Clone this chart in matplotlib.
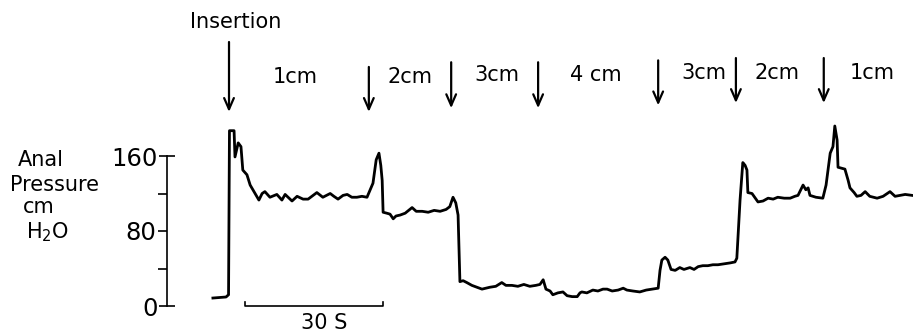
#ANAL PRESSURE TRACE DURING INSERTION AND WITHDRAWAL
import matplotlib
matplotlib.use("Agg")
import matplotlib.pyplot as plt

#trace (time in s from insertion, pressure in cm H2O)
time_s = [-3.5, -0.65, -0.1, 0.1, 1.1, 1.3, 2.0, 2.6, 3.0, 3.9, 4.6, 5.2, 6.5, 7.2, 7.8,
          8.9, 10.4, 11.5, 12.2, 13.7, 14.8, 16.1, 17.2, 18.3, 19.1, 20.4, 22.0, 22.8,
          23.7, 24.8, 25.7, 26.7, 27.8, 28.9, 30.0, 30.7, 31.3, 32.0, 32.6, 33.0, 33.3,
          33.5, 34.3, 35.0, 35.7, 36.3, 37.2, 38.3, 39.8, 40.7, 42.0, 43.3, 44.6, 45.9,
          47.2, 48.0, 48.7, 49.3, 49.8, 50.2, 50.9, 51.7, 52.8, 53.9, 55.0, 55.9, 56.7,
          58.0, 59.3, 60.2, 61.5, 62.8, 64.1, 65.4, 66.7, 67.6, 68.3, 68.9, 69.8, 70.4,
          71.5, 72.6, 73.5, 74.6, 75.7, 76.3, 76.7, 77.8, 79.1, 80.2, 81.3, 82.2, 83.3,
          84.6, 85.7, 86.5, 87.8, 89.3, 90.7, 92.0, 93.3, 93.7, 94.1, 94.8, 95.4, 96.1,
          97.0, 98.0, 98.9, 100.2, 101.1, 102.0, 103.0, 104.1, 105.2, 106.3, 107.6,
          109.0, 110.0, 110.4, 111.1, 111.7, 112.2, 112.6, 112.8, 113.7, 115.0, 116.1,
          117.2, 118.3, 119.3, 120.7, 122.0, 123.0, 123.7, 124.3, 124.8, 125.4, 125.9,
          126.3, 127.6, 129.1, 129.8, 130.7, 131.3, 131.7, 132.2, 132.4, 133.9, 134.6,
          135.0, 135.9, 136.5, 137.4, 138.3, 139.3, 140.9, 142.2, 143.7, 144.8, 145.9,
          147.0, 148.5]
pressure = [8.5, 9.6, 12, 187, 187, 159, 174, 170, 145, 140, 129, 124, 113, 120, 122,
            116, 119, 113, 119, 112, 117, 114, 114, 118, 121, 116, 120, 117,
            114, 118, 119, 116, 116, 117, 116, 124, 131, 156, 163, 150, 134,
            100, 99, 98, 93, 96, 97, 99, 105, 101, 101, 100, 102, 101,
            103, 106, 116, 110, 97, 26, 27, 25, 22, 20, 18, 19, 20,
            21, 25, 22, 22, 21, 23, 21, 22, 23, 28, 18, 16, 12,
            14, 15, 11, 10, 10, 14, 15, 14, 17, 16, 18, 18, 16,
            17, 19, 17, 16, 15, 17, 18, 19, 38, 49, 52, 49, 39,
            38, 41, 39, 41, 39, 42, 43, 43, 44, 44, 45,
            46, 47, 51, 113, 153, 150, 145, 121, 120, 111, 112,
            115, 114, 116, 115, 115, 117, 118, 124, 129, 124, 126,
            118, 116, 115, 129, 163, 170, 192, 177, 148, 146, 134,
            126, 121, 117, 118, 122, 117, 115, 117, 122, 117, 118,
            119, 118]

#event markers: arrow times and the distance label between them
event_times = [0, 30.4, 48.3, 67.2, 93.3, 110.2, 129.3]
depth_labels = ["1cm", "2cm", "3cm", "4 cm", "3cm", "2cm", "1cm"]
label_times = [14.3, 39.3, 58.3, 79.8, 103.3, 119.1, 139.8]

#y axis ticks
major_ticks = [0, 160]
minor_ticks = [40, 80, 120]
minor_tick_labels = ["", "80", ""]

#scale bar
bar_start = 3.5
bar_length = 30

fig = plt.figure(figsize=(9.13, 3.36), dpi=100)
ax = fig.add_axes([167 / 913, 0, 1 - 167 / 913, 1])
ax.set_xlim(-13.48, 148.7)
ax.set_ylim(-32, 326.4)

#the pressure trace
ax.plot(time_s, pressure, color="black", linewidth=2.0, solid_joinstyle="round")

#axis styling
for side in ["top", "right", "bottom"]:
    ax.spines[side].set_visible(False)
ax.spines["left"].set_bounds(0, 160)
ax.spines["left"].set_linewidth(1.2)
ax.set_xticks([])
ax.set_yticks(major_ticks)
ax.set_yticks(minor_ticks, minor=True)
ax.set_yticklabels([str(t) for t in major_ticks])
ax.set_yticklabels(minor_tick_labels, minor=True)
ax.tick_params(axis="y", which="major", direction="inout", length=11, width=1.2, pad=1)
ax.tick_params(axis="y", which="minor", direction="out", length=6.5, width=1.2, pad=1.5)
tick_font = ["Liberation Sans Narrow", "DejaVu Sans"]
for lab in ax.get_yticklabels() + ax.get_yticklabels(minor=True):
    lab.set_family(tick_font)
    lab.set_fontsize(17.5)

#arrows
arrow_style = "->,head_length=0.8,head_width=0.35"
arrow_tops = [281.6, 255, 260, 260, 262, 264.5, 264.5]
arrow_tips = [207, 207, 211, 211, 214, 216.5, 216.5]
for t, top, tip in zip(event_times, arrow_tops, arrow_tips):
    ax.annotate("", xy=(t, tip), xytext=(t, top),
                arrowprops=dict(arrowstyle=arrow_style, color="black", lw=1.6,
                                shrinkA=0, shrinkB=0))

ax.text(1.5, 303, "Insertion", ha="center", va="center", fontsize=15)
label_heights = [244, 244, 246, 246, 248.5, 248.5, 248.5]
for t, h, lab in zip(label_times, label_heights, depth_labels):
    ax.text(t, h, lab, ha="center", va="center", fontsize=15)

#30 second scale bar
ax.plot([bar_start, bar_start, bar_start + bar_length, bar_start + bar_length],
        [4, 0.5, 0.5, 4], color="black", linewidth=1.2)
ax.text(bar_start + bar_length / 2 + 2.1, -18, "30 S", ha="center", va="center", fontsize=15)

#y axis title
fig.text(41 / 913, 1 - 160 / 336, "Anal", ha="center", va="center", fontsize=15)
fig.text(54 / 913, 1 - 185 / 336, "Pressure", ha="center", va="center", fontsize=15)
fig.text(39 / 913, 1 - 207 / 336, "cm", ha="center", va="center", fontsize=15)
fig.text(48 / 913, 1 - 232 / 336, r"H$_2$O", ha="center", va="center", fontsize=15)

fig.savefig("out.png", dpi=100, facecolor="white")
